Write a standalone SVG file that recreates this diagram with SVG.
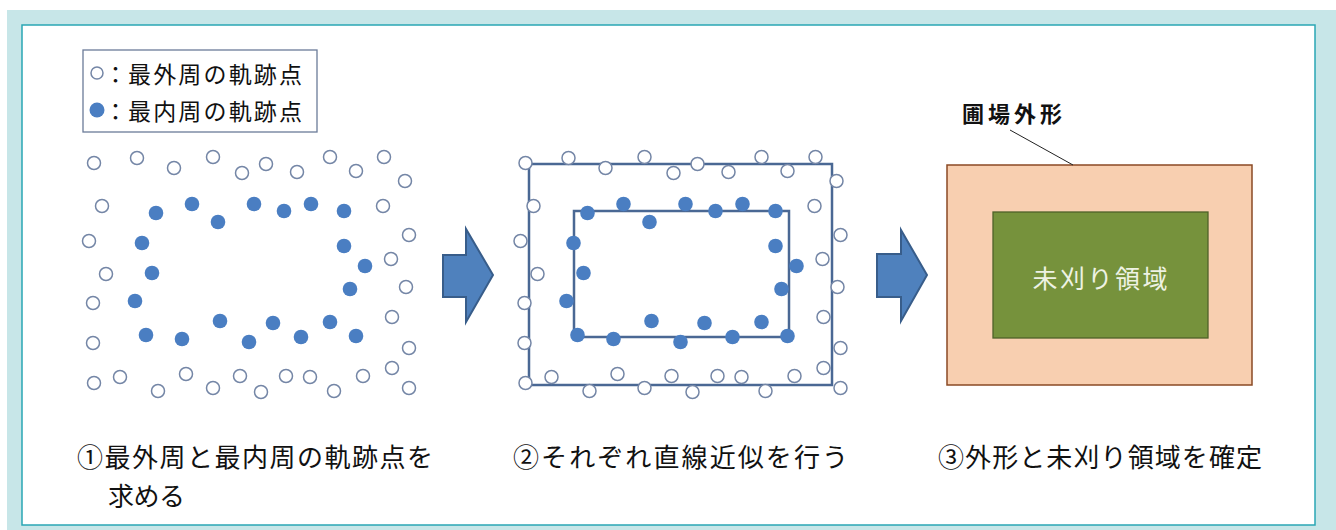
<svg xmlns="http://www.w3.org/2000/svg" xmlns:xlink="http://www.w3.org/1999/xlink" width="1336" height="530" viewBox="0 0 1336 530">
<style>
.o{fill:#fff;stroke:#7486a6;stroke-width:1.5}
.f{fill:#4a7ec2;stroke:none}
.t{font-family:"Noto Sans CJK JP","Noto Sans CJK SC",sans-serif;fill:#111}
.arrow{fill:#4f81bd;stroke:#385d8a;stroke-width:2;stroke-linejoin:miter}
.fit{fill:none;stroke:#4a6894;stroke-width:2.5}
</style>
<defs>
<g id="dots">
<circle class="o" cx="94" cy="163" r="6.5"/><circle class="o" cx="137" cy="158" r="6.5"/><circle class="o" cx="174" cy="168" r="6.5"/><circle class="o" cx="213" cy="157" r="6.5"/><circle class="o" cx="242" cy="173" r="6.5"/><circle class="o" cx="266" cy="164" r="6.5"/><circle class="o" cx="297" cy="172" r="6.5"/><circle class="o" cx="330" cy="157" r="6.5"/><circle class="o" cx="356" cy="171" r="6.5"/><circle class="o" cx="384" cy="157" r="6.5"/><circle class="o" cx="405" cy="181" r="6.5"/>
<circle class="o" cx="102" cy="206" r="6.5"/><circle class="o" cx="383" cy="206" r="6.5"/><circle class="o" cx="89" cy="241" r="6.5"/><circle class="o" cx="409" cy="235" r="6.5"/><circle class="o" cx="106" cy="274" r="6.5"/><circle class="o" cx="391" cy="259" r="6.5"/><circle class="o" cx="406" cy="287" r="6.5"/><circle class="o" cx="93" cy="303" r="6.5"/><circle class="o" cx="392" cy="317" r="6.5"/><circle class="o" cx="93" cy="343" r="6.5"/><circle class="o" cx="409" cy="348" r="6.5"/>
<circle class="o" cx="94" cy="383" r="6.5"/><circle class="o" cx="120" cy="377" r="6.5"/><circle class="o" cx="158" cy="391" r="6.5"/><circle class="o" cx="186" cy="374" r="6.5"/><circle class="o" cx="213" cy="388" r="6.5"/><circle class="o" cx="240" cy="376" r="6.5"/><circle class="o" cx="261" cy="392" r="6.5"/><circle class="o" cx="286" cy="376" r="6.5"/><circle class="o" cx="310" cy="377" r="6.5"/><circle class="o" cx="334" cy="391" r="6.5"/><circle class="o" cx="363" cy="376" r="6.5"/><circle class="o" cx="392" cy="368" r="6.5"/><circle class="o" cx="409" cy="388" r="6.5"/>
<circle class="f" cx="156" cy="213" r="7.3"/><circle class="f" cx="192" cy="204" r="7.3"/><circle class="f" cx="218" cy="222" r="7.3"/><circle class="f" cx="254" cy="204" r="7.3"/><circle class="f" cx="284" cy="211" r="7.3"/><circle class="f" cx="311" cy="204" r="7.3"/><circle class="f" cx="344" cy="211" r="7.3"/>
<circle class="f" cx="142" cy="243" r="7.3"/><circle class="f" cx="344" cy="246" r="7.3"/><circle class="f" cx="365" cy="266" r="7.3"/><circle class="f" cx="152" cy="273" r="7.3"/><circle class="f" cx="350" cy="289" r="7.3"/><circle class="f" cx="135" cy="301" r="7.3"/>
<circle class="f" cx="220" cy="321" r="7.3"/><circle class="f" cx="273" cy="323" r="7.3"/><circle class="f" cx="330" cy="322" r="7.3"/><circle class="f" cx="146" cy="335" r="7.3"/><circle class="f" cx="182" cy="339" r="7.3"/><circle class="f" cx="249" cy="342" r="7.3"/><circle class="f" cx="301" cy="337" r="7.3"/><circle class="f" cx="356" cy="336" r="7.3"/>
</g>
</defs>
<g id="background">
<rect x="0" y="0" width="1336" height="530" fill="#fff"/>
<rect x="7" y="10" width="1329" height="520" fill="#c7e6e8"/>
<rect x="22" y="25" width="1293" height="500" fill="#fff" stroke="#2aa6b4" stroke-width="1.5"/>
</g>
<g id="legend">
<rect x="83" y="50" width="234" height="82" fill="#fff" stroke="#6b7b99" stroke-width="1.3"/>
<circle class="o" cx="97" cy="73" r="6"/>
<circle class="f" cx="97" cy="110" r="7.5"/>
<text class="t" x="104" y="73" font-size="23" dominant-baseline="central">：</text>
<text class="t" x="104" y="110" font-size="23" dominant-baseline="central">：</text>
<text class="t" x="128" y="73" font-size="23" dominant-baseline="central" textLength="174" lengthAdjust="spacing">最外周の軌跡点</text>
<text class="t" x="128" y="110" font-size="23" dominant-baseline="central" textLength="174" lengthAdjust="spacing">最内周の軌跡点</text>
</g>
<g id="panel1">
<use xlink:href="#dots" href="#dots"/>
</g>
<g id="arrow1">
<polygon class="arrow" points="443,255 466,255 466,229 493,275 466,322 466,297 443,297"/>
</g>
<g id="panel2">
<rect class="fit" x="529" y="164" width="303" height="221"/>
<rect class="fit" x="574" y="211" width="215" height="126"/>
<use xlink:href="#dots" href="#dots" transform="translate(431.5,0)"/>
</g>
<g id="arrow2">
<polygon class="arrow" points="877,254 901,254 901,230 927,275 901,321 901,297 877,297"/>
</g>
<g id="panel3">
<rect x="947" y="165" width="305" height="220" fill="#f8cfb0" stroke="#8a4a24" stroke-width="1.5"/>
<rect id="uncut" x="993" y="212" width="215" height="126" fill="#76923c" stroke="#4f6228" stroke-width="1.3"/>
<text x="1100" y="277" font-size="25" fill="#eef2e4" text-anchor="middle" dominant-baseline="central" font-family="Noto Sans CJK JP, sans-serif" textLength="135" lengthAdjust="spacing">未刈り領域</text>
<text class="t" x="962" y="112" font-size="22" font-weight="bold" dominant-baseline="central" textLength="100" lengthAdjust="spacing">圃場外形</text>
</g>
<g id="connectors">
<line x1="1010" y1="130" x2="1073" y2="165" stroke="#222" stroke-width="1"/>
</g>
<g id="captions">
<text class="t" x="77" y="455" font-size="26" dominant-baseline="central" textLength="356" lengthAdjust="spacing">①最外周と最内周の軌跡点を</text>
<text class="t" x="108" y="494" font-size="26" dominant-baseline="central" textLength="77" lengthAdjust="spacing">求める</text>
<text class="t" x="513" y="455" font-size="26" dominant-baseline="central" textLength="335" lengthAdjust="spacing">②それぞれ直線近似を行う</text>
<text class="t" x="938" y="455" font-size="26" dominant-baseline="central" textLength="324" lengthAdjust="spacing">③外形と未刈り領域を確定</text>
</g>
</svg>
